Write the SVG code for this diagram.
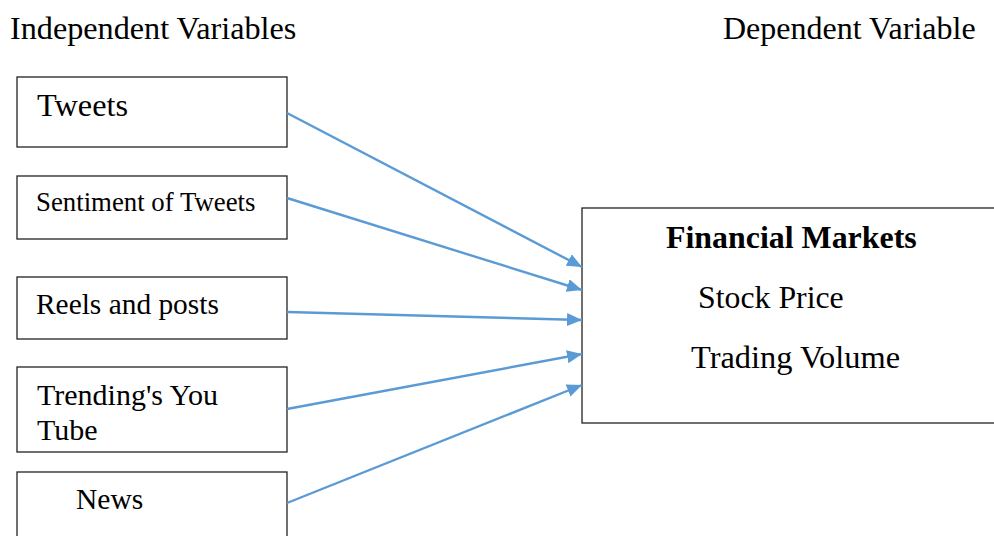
<svg xmlns="http://www.w3.org/2000/svg" width="994" height="536" viewBox="0 0 994 536">
<style>
.box{fill:#fff;stroke:#222;stroke-width:1.3}
.t{font-family:"Liberation Serif","Times New Roman",serif;fill:#000}
.c{stroke:#5B9BD5;stroke-width:2.4;fill:none}
</style>
<defs>
<marker id="ah" markerUnits="userSpaceOnUse" markerWidth="16" markerHeight="14" refX="15" refY="6.5" orient="auto">
<path d="M0,0 L15,6.5 L0,13 z" fill="#5B9BD5"/>
</marker>
</defs>
<rect width="994" height="536" fill="#fff"/>
<text class="t" x="10" y="39" font-size="32.2">Independent Variables</text>
<text class="t" x="723" y="39" font-size="32">Dependent Variable</text>
<g id="tweets">
<rect class="box" x="17" y="77" width="270" height="70"/>
<text class="t" x="37" y="116" font-size="32.3">Tweets</text>
</g>
<g id="sentiment">
<rect class="box" x="17" y="176" width="270" height="63"/>
<text class="t" x="36" y="211" font-size="26.8">Sentiment of Tweets</text>
</g>
<g id="reels">
<rect class="box" x="17" y="277" width="270" height="62"/>
<text class="t" x="36" y="314" font-size="29.4">Reels and posts</text>
</g>
<g id="trending">
<rect class="box" x="17" y="367" width="270" height="85"/>
<text class="t" x="37" y="405" font-size="30">Trending's You</text>
<text class="t" x="37" y="440" font-size="30">Tube</text>
</g>
<g id="news">
<rect class="box" x="17" y="472" width="270" height="80"/>
<text class="t" x="76" y="509" font-size="29.5">News</text>
</g>
<g id="financial">
<rect class="box" x="582" y="208" width="420" height="215"/>
<text class="t" x="666" y="248" font-size="31.9" font-weight="bold">Financial Markets</text>
<text class="t" x="698" y="308" font-size="31.8">Stock Price</text>
<text class="t" x="691" y="368" font-size="32.4">Trading Volume</text>
</g>
<g id="connectors">
<line class="c" x1="287" y1="113" x2="582" y2="267" marker-end="url(#ah)"/>
<line class="c" x1="287" y1="198" x2="582" y2="290" marker-end="url(#ah)"/>
<line class="c" x1="287" y1="312" x2="582" y2="320" marker-end="url(#ah)"/>
<line class="c" x1="287" y1="409" x2="582" y2="354" marker-end="url(#ah)"/>
<line class="c" x1="287" y1="503" x2="582" y2="385" marker-end="url(#ah)"/>
</g>
</svg>
